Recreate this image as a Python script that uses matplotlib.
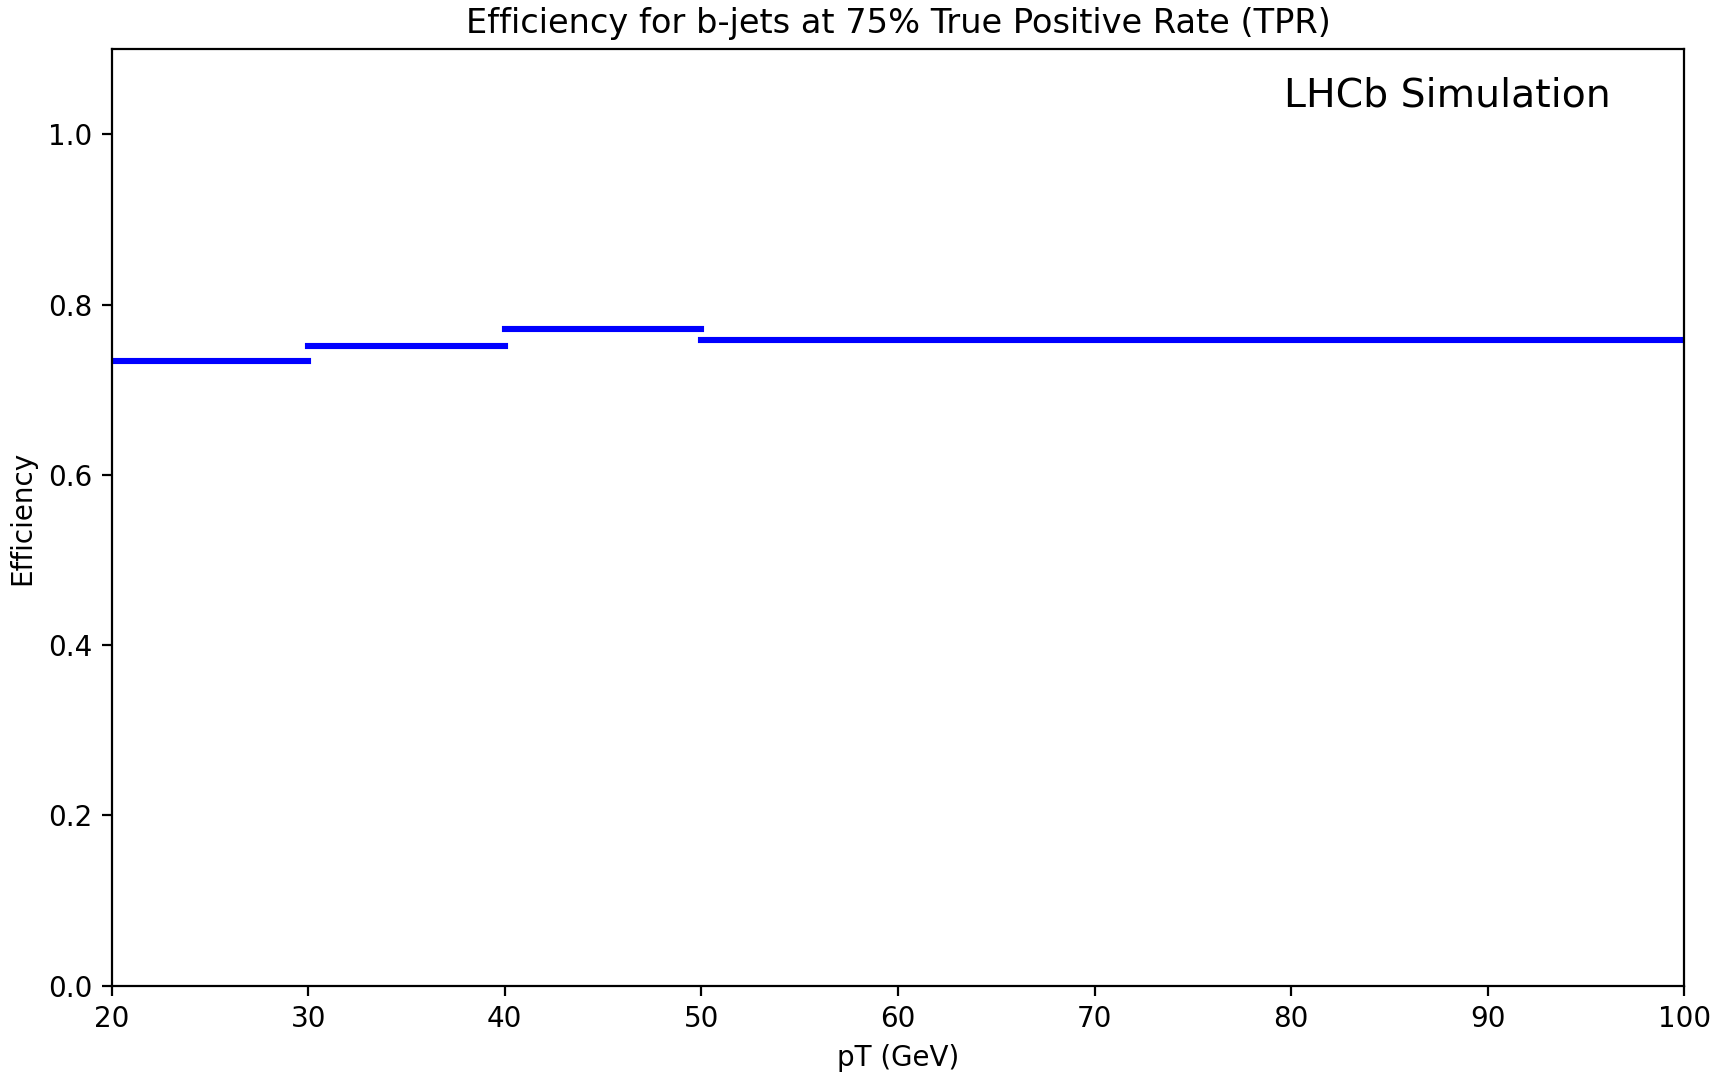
import numpy as np
import matplotlib; matplotlib.use('Agg')
import matplotlib.pyplot as plt

bin_lo = [20, 30, 40, 50]
bin_hi = [30, 40, 50, 100]
efficiency = [0.734, 0.752, 0.772, 0.759]

lo = np.array(bin_lo); hi = np.array(bin_hi)
centers = (lo + hi) / 2
half = (hi - lo) / 2

fig = plt.figure(figsize=(1717 / 200, 1073 / 200), dpi=200)
ax = fig.add_axes([0.065, 0.0815, 0.916, 0.8725])
ax.errorbar(centers, efficiency, xerr=half, fmt='none', ecolor='blue', elinewidth=2.2,
            capsize=0)
for c in ax.collections:
    c.set_capstyle('projecting')
ax.set_xlim(20, 100); ax.set_ylim(0, 1.1)
ax.set_xlabel('pT (GeV)'); ax.set_ylabel('Efficiency')
ax.set_title('Efficiency for b-jets at 75% True Positive Rate (TPR)', fontsize=12.1)
ax.text(0.953, 0.971, 'LHCb Simulation', transform=ax.transAxes, ha='right', va='top', fontsize=14.2)
fig.savefig('out.png', dpi=200)
